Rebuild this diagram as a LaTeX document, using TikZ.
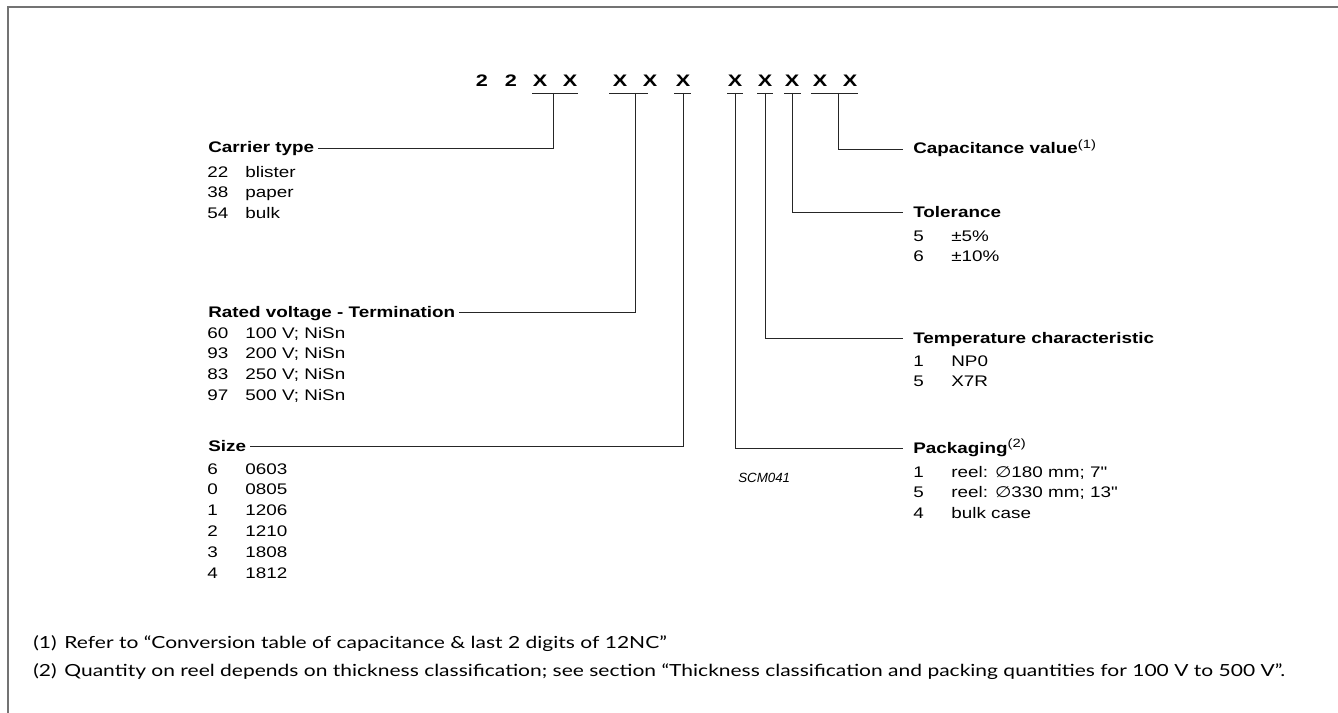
\documentclass[tikz,border=0pt]{standalone}
\usepackage{fontspec}
\setmainfont{Liberation Sans}
\newfontfamily\notefont{Lato}
\newfontfamily\symfont{DejaVu Sans}
\usetikzlibrary{positioning}

\tikzset{
	digit/.style={font=\fontsize{12.5}{15}\selectfont\bfseries, anchor=base, inner sep=0, xscale=1.3},
	keylabel/.style={font=\fontsize{11.5}{14}\selectfont\bfseries, anchor=base west, inner xsep=2.4pt, inner ysep=0, text height=9pt, text depth=1.5pt, xscale=1.23},
	rkeylabel/.style={keylabel, inner xsep=6.1pt},
	codelist/.style={font=\fontsize{11.5}{15.6}\selectfont, anchor=base west, inner sep=0, xscale=1.23},
	lead/.style={black!85, line width=0.6pt},
	frame/.style={black!55, line width=1.1pt},
	fnote/.style={font=\notefont\fontsize{12.5}{15}\selectfont, anchor=base west, inner sep=0, xscale=1.26},
}
\newcommand{\codes}[1]{\begin{tabular}[t]{@{}p{23.2pt}@{}l@{}}#1\end{tabular}}
\newcommand{\dia}{{\symfont ∅}}
\newcommand{\noteref}[1]{\textsuperscript{\mdseries\fontsize{9}{9}\selectfont(#1)}}

\begin{document}
\begin{tikzpicture}[x=0.75pt, y=-0.75pt]
	\useasboundingbox (0,0) rectangle (1338,713);
	\draw[frame] (8,713) -- (8,7) -- (1338,7);

	% type number
	\foreach \n/\x/\c in {d1/482/2, d2/511/2, d3/540/X, d4/570/X, d5/620/X, d6/650/X, d7/683/X,
		d8/735/X, d9/765/X, d10/792/X, d11/820/X, d12/850/X}
		\node[digit] (\n) at (\x,87) {\c};

	% underlines and tap points
	\foreach \t/\a/\b/\v in {t1/532/578/553, t2/609/648/635, t3/674/691/683, t4/727/743/735,
		t5/757/773/765, t6/784/801/792, t7/811/858/838} {
		\draw[lead] (\a,93) -- (\b,93);
		\coordinate (\t) at (\v,93);
	}

	% left keys
	\node[keylabel] (carrier) at (204,153) {Carrier type};
	\node[codelist] (carrierlist) at (207,177) {\codes{22 & blister\\ 38 & paper\\ 54 & bulk}};
	\node[keylabel] (volt) at (204,317) {Rated voltage - Termination};
	\node[codelist] (voltlist) at (207,338) {\codes{60 & 100 V; NiSn\\ 93 & 200 V; NiSn\\ 83 & 250 V; NiSn\\ 97 & 500 V; NiSn}};
	\node[keylabel] (size) at (204,451) {Size};
	\node[codelist] (sizelist) at (207,474) {\codes{6 & 0603\\ 0 & 0805\\ 1 & 1206\\ 2 & 1210\\ 3 & 1808\\ 4 & 1812}};

	% right keys
	\node[rkeylabel] (capval) at (903,154) {Capacitance value\noteref{1}};
	\node[rkeylabel] (tol) at (903,217) {Tolerance};
	\node[codelist] (tollist) at (913,241) {\codes{5 & ±5\%\\ 6 & ±10\%}};
	\node[rkeylabel] (temp) at (903,343) {Temperature characteristic};
	\node[codelist] (templist) at (913,366) {\codes{1 & NP0\\ 5 & X7R}};
	\node[rkeylabel] (pack) at (903,453) {Packaging\noteref{2}};
	\node[codelist] (packlist) at (913,477) {\codes{1 & reel: \dia180 mm; 7\textquotedbl\\ 5 & reel: \dia330 mm; 13\textquotedbl\\ 4 & bulk case}};

	\node[font=\fontsize{10}{12}\selectfont\itshape, anchor=base west, inner sep=0] (code) at (738,482) {SCM041};

	% leads
	\draw[lead] (t1) |- (carrier.east);
	\draw[lead] (t2) |- (volt.east);
	\draw[lead] (t3) |- (size.east);
	\draw[lead] (t4) |- (pack.west);
	\draw[lead] (t5) |- (temp.west);
	\draw[lead] (t6) |- (tol.west);
	\draw[lead] (t7) |- (capval.west);

	% notes
	\node[fnote] (note1) at (33,648) {\makebox[18.5pt][l]{(1)}Refer to “Conversion table of capacitance \& last 2 digits of 12NC”};
	\node[fnote] (note2) at (33,676) {\makebox[18.5pt][l]{(2)}Quantity on reel depends on thickness classification; see section “Thickness classification and packing quantities for 100 V to 500 V”.};
\end{tikzpicture}
\end{document}
